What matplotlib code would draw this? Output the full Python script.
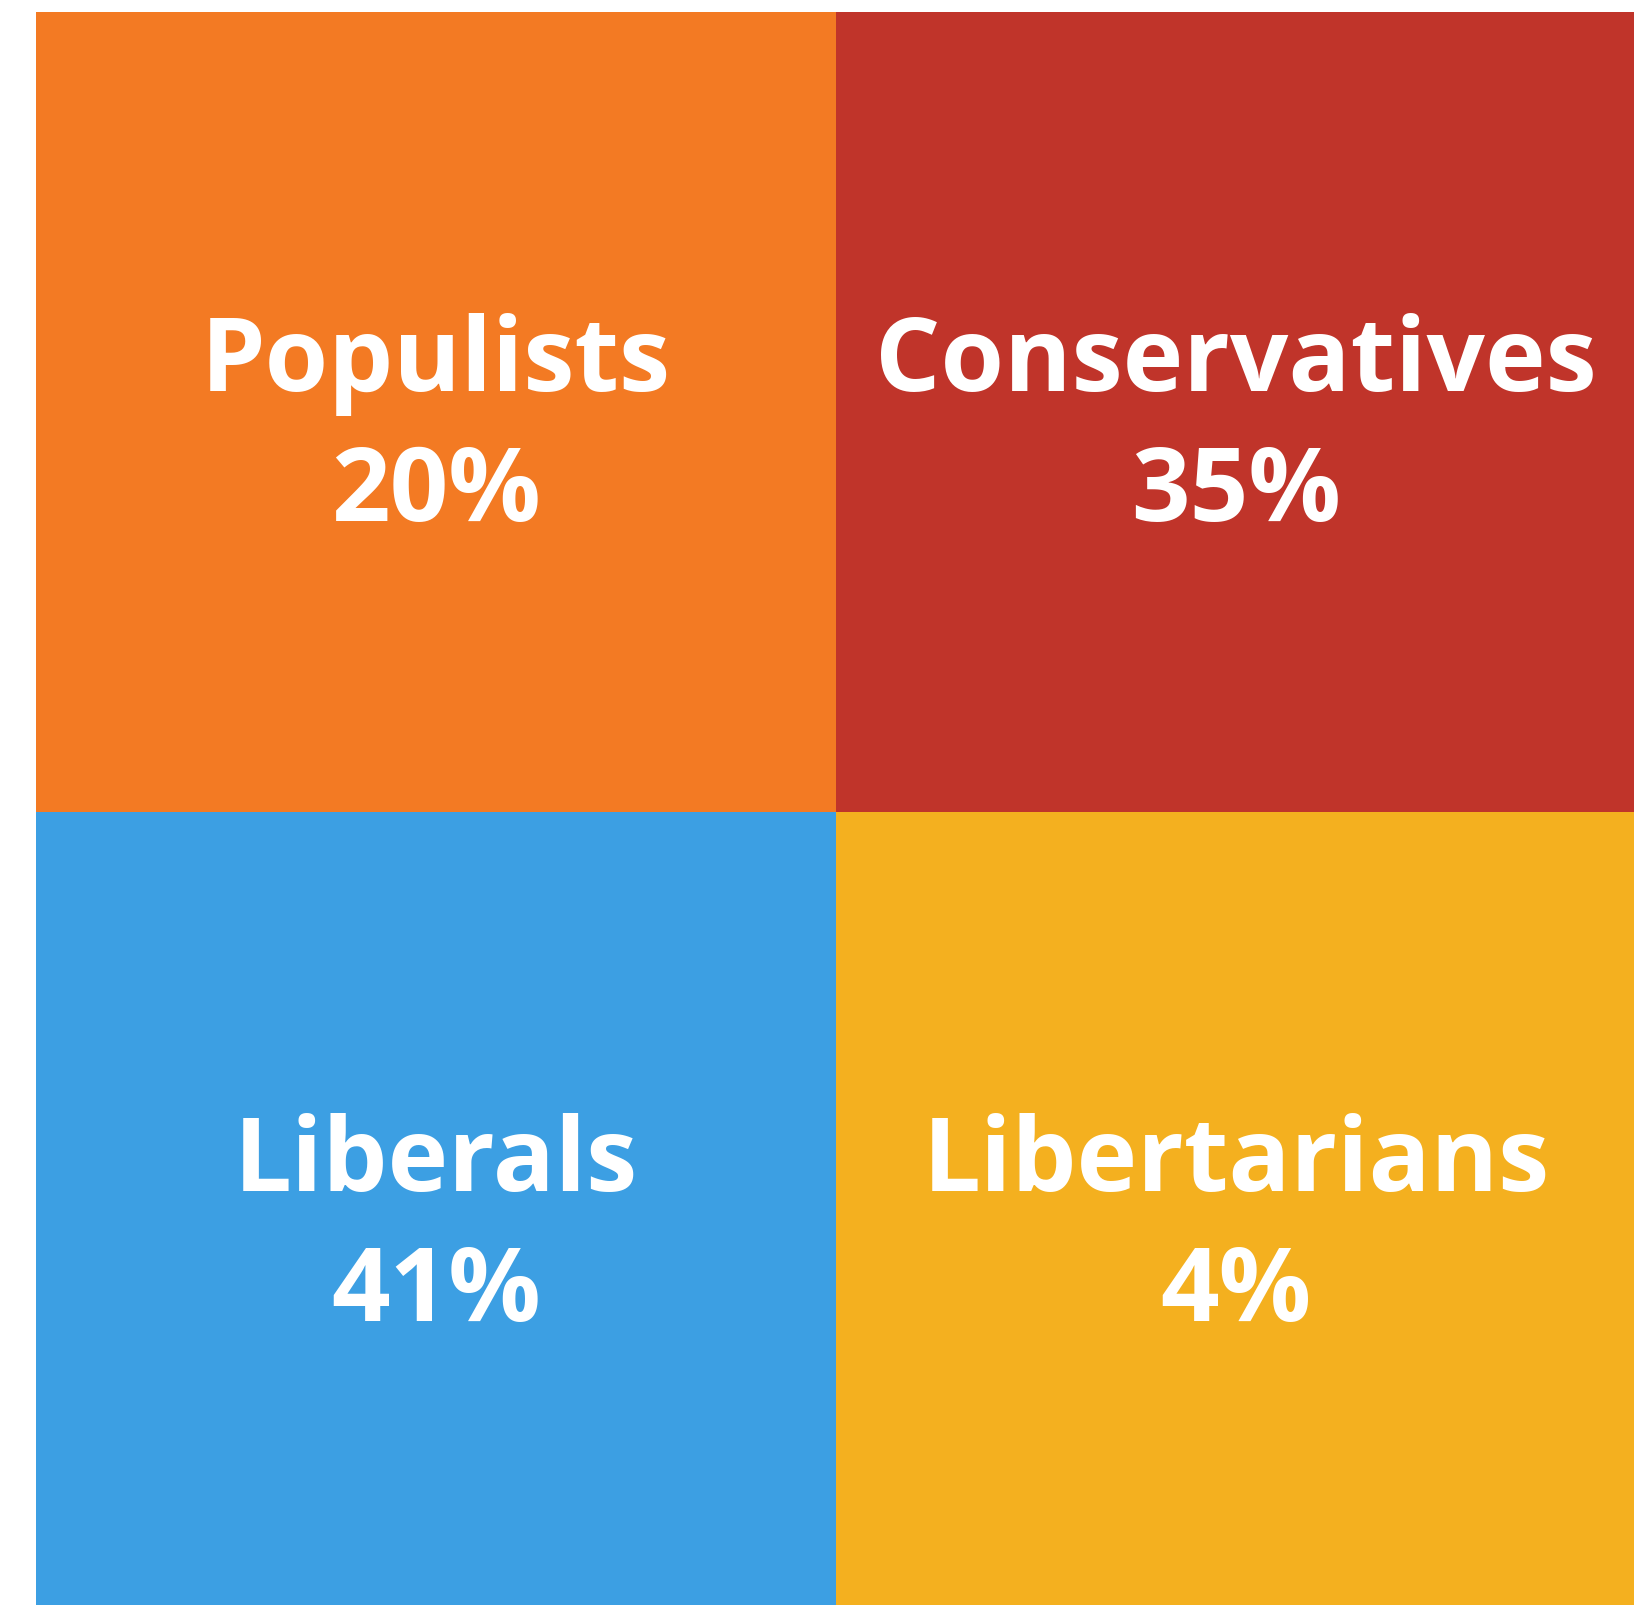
import matplotlib
matplotlib.use('Agg')
import matplotlib.pyplot as plt

# 2x2 grid of groups, read row by row from top-left
groups = ['Populists', 'Conservatives', 'Liberals', 'Libertarians']
shares = [20, 35, 41, 4]
colors = ['#F37A23', '#C0342A', '#3C9FE3', '#F4B01F']
cols = [0, 1, 0, 1]
rows = [1, 1, 0, 0]

plt.rcParams['font.family'] = ['Open Sans', 'DejaVu Sans']

fig = plt.figure(figsize=(16.34, 16.06), dpi=100)
# square cells of 800 px; right column and bottom row run past the canvas edge
ax = fig.add_axes([36 / 1634, -7 / 1606, 1600 / 1634, 1600 / 1606])

for name, share, c, col, row in zip(groups, shares, colors, cols, rows):
    ax.bar(col, 1, bottom=row, width=1, align='edge', color=c, linewidth=0)
    ax.text(col + 0.5, row + 0.527, name, ha='center', va='baseline',
            fontsize=74, fontweight='bold', color='white')
    ax.text(col + 0.5, row + 0.365, '{}%'.format(share), ha='center',
            va='baseline', fontsize=74, fontweight='bold', color='white')

ax.set_xlim(0, 2)
ax.set_ylim(0, 2)
ax.axis('off')

fig.savefig('out.png', dpi=100)
